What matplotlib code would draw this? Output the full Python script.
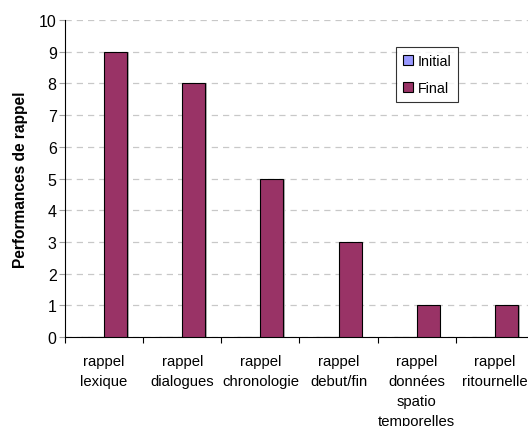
import matplotlib
matplotlib.use("Agg")
import matplotlib.pyplot as plt
import numpy as np

categories = ["rappel\nlexique", "rappel\ndialogues", "rappel\nchronologie",
              "rappel\ndebut/fin", "rappel\ndonnées\nspatio\ntemporelles",
              "rappel\nritournelle"]
initial = [0, 0, 0, 0, 0, 0]
final = [9, 8, 5, 3, 1, 1]
yticks = list(range(0, 11))

plt.rcParams['font.family'] = ['Liberation Sans', 'DejaVu Sans']

fig = plt.figure(figsize=(5.28, 4.27), dpi=100)
ax = fig.add_axes([65/528, 1-338/427, 469/528, (338-21)/427])

x = np.arange(len(categories))
w = 0.294
sh = 0.022
# shadows
ax.bar(x + w/2 + sh, final, w, color='#B0B0B0', linewidth=0, zorder=2)
ax.bar(x - w/2, initial, w, color='#9999FF', edgecolor='black', linewidth=0.8, label='Initial', zorder=3)
ax.bar(x + w/2, final, w, color='#993366', edgecolor='black', linewidth=0.8, label='Final', zorder=3)

ax.set_xlim(-0.5, len(categories) - 0.5)
ax.set_ylim(0, 10)
ax.set_yticks(yticks)
ax.tick_params(axis='y', labelsize=11.5, length=4, width=0.8, pad=2, color='#A0A0A0')
ax.set_xticks(x)
ax.set_xticklabels(categories, fontsize=10.7, linespacing=1.55)
ax.tick_params(axis='x', which='major', length=0, pad=12)
ax.set_xticks(np.arange(-0.5, len(categories), 1), minor=True)
ax.tick_params(axis='x', which='minor', length=4, width=0.8)

ax.grid(axis='y', color='#C8C8C8', linestyle=(0, (5, 4)), linewidth=0.9, zorder=0)
for s in ['top', 'right']:
    ax.spines[s].set_visible(False)
ax.spines['left'].set_linewidth(0.8)
ax.spines['bottom'].set_linewidth(0.8)

ax.set_ylabel('Performances de rappel', fontsize=11.2, fontweight='bold', labelpad=7.5)

leg = ax.legend(loc='upper left', bbox_to_anchor=((396-65)/469, 1-(48-21)/317),
                fontsize=10.3, frameon=True, fancybox=False, edgecolor='black',
                handlelength=0.7, handleheight=0.7, handletextpad=0.3,
                borderpad=0.5, labelspacing=0.9, borderaxespad=0)
leg.get_frame().set_linewidth(0.8)

fig.savefig('out.png', dpi=100)
